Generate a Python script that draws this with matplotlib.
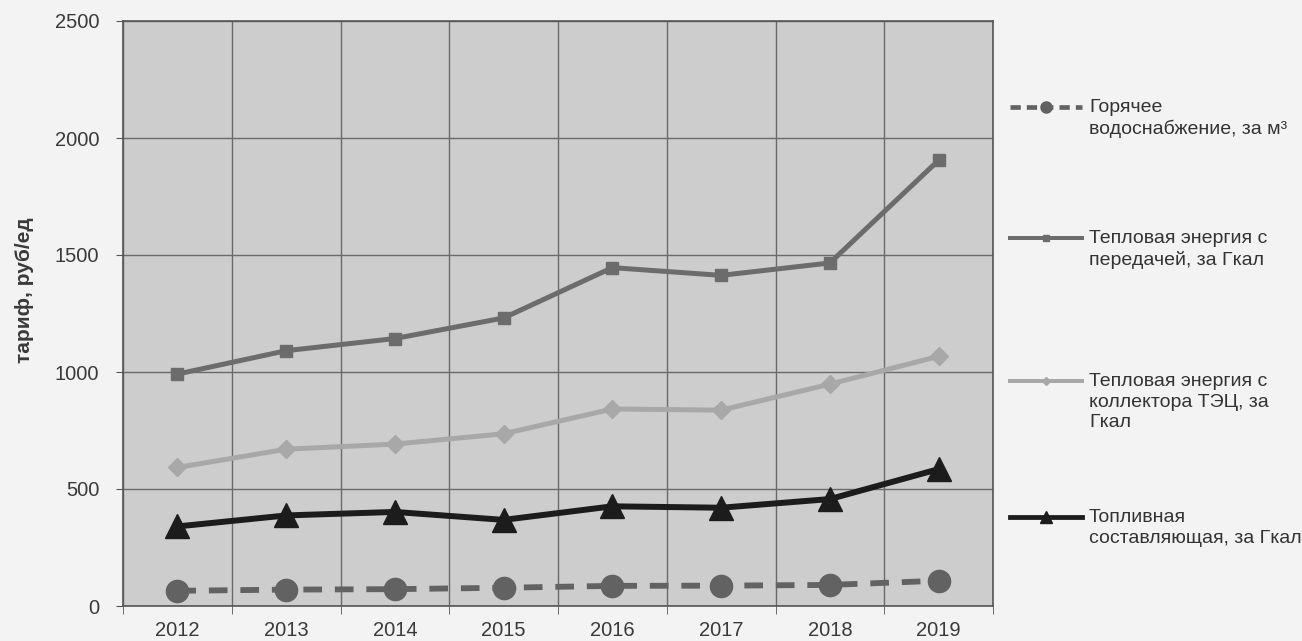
import numpy as np
import matplotlib
matplotlib.use('Agg')
import matplotlib.pyplot as plt
from matplotlib.lines import Line2D

plt.rcParams['font.family'] = ['Liberation Sans', 'DejaVu Sans']

years = ['2012', '2013', '2014', '2015', '2016', '2017', '2018', '2019']
hot_water = [65, 70, 72, 78, 86, 87, 90, 108]
heat_transfer = [991, 1091, 1143, 1231, 1446, 1413, 1466, 1905]
heat_collector = [592, 670, 692, 736, 842, 837, 948, 1067]
fuel = [340, 387, 402, 368, 426, 420, 457, 585]

labels = ['Горячее\nводоснабжение, за м³',
          'Тепловая энергия с\nпередачей, за Гкал',
          'Тепловая энергия с\nколлектора ТЭЦ, за\nГкал',
          'Топливная\nсоставляющая, за Гкал']

W, H = 1302, 641
fig = plt.figure(figsize=(W / 100, H / 100), dpi=100)
fig.patch.set_facecolor('#f3f3f3')
ax = fig.add_axes([123 / W, 1 - 606 / H, 870 / W, 585 / H])
ax.set_facecolor('#cdcdcd')

x = np.arange(len(years))
styles = [
    dict(color='#626262', ls=(0, (3.2, 2.2)), lw=4.2, marker='o', ms=16),
    dict(color='#6c6c6c', ls='-', lw=3.6, marker='s', ms=9),
    dict(color='#a8a8a8', ls='-', lw=3.6, marker='D', ms=9),
    dict(color='#1c1c1c', ls='-', lw=4.3, marker='^', ms=17),
]
series = [hot_water, heat_transfer, heat_collector, fuel]
for vals, st in zip(series, styles):
    ax.plot(x, vals, color=st['color'], linestyle=st['ls'], linewidth=st['lw'],
            marker=st['marker'], markersize=st['ms'], zorder=3)

ax.set_xlim(-0.5, len(years) - 0.5)
ax.set_ylim(0, 2500)
ax.set_yticks(range(0, 2501, 500))
ax.set_xticks(x)
ax.set_xticklabels(years)
ax.set_xticks(np.arange(-0.5, len(years)), minor=True)
ax.tick_params(axis='x', which='major', length=0, pad=11, labelsize=14.5, labelcolor='#3a3a3a')
ax.tick_params(axis='x', which='minor', length=6, color='#555555')
ax.tick_params(axis='y', length=5, pad=12, labelsize=14.5, labelcolor='#3a3a3a', color='#555555')
ax.grid(True, axis='y', which='major', color='#6a6a6a', lw=1)
ax.grid(True, axis='x', which='minor', color='#6a6a6a', lw=1)
ax.set_axisbelow(True)
for s in ax.spines.values():
    s.set_color('#555555')
    s.set_linewidth(1.2)
fig.text(25 / W, 1 - 290 / H, 'тариф, руб/ед', fontsize=15, fontweight='bold',
         color='#3a3a3a', rotation=90, ha='center', va='center')

# legend drawn at the right, handle level with the first text line
rows = [107, 238, 381, 517]
for yy, lab, st in zip(rows, labels, styles):
    fy = 1 - yy / H
    fig.add_artist(Line2D([1010 / W, 1046 / W, 1082 / W], [fy, fy, fy],
                          transform=fig.transFigure, color=st['color'],
                          linestyle=st['ls'] if st['ls'] == '-' else (0, (2.2, 1.3)),
                          linewidth=st['lw'] * 0.8, marker=st['marker'],
                          markersize=st['ms'] * 0.5, markevery=[1]))
    fig.text(1089 / W, 1 - (yy - 8) / H, lab, fontsize=14, color='#333333',
             va='top', ha='left', linespacing=1.28)

fig.savefig('out.png', dpi=100, facecolor=fig.get_facecolor())
